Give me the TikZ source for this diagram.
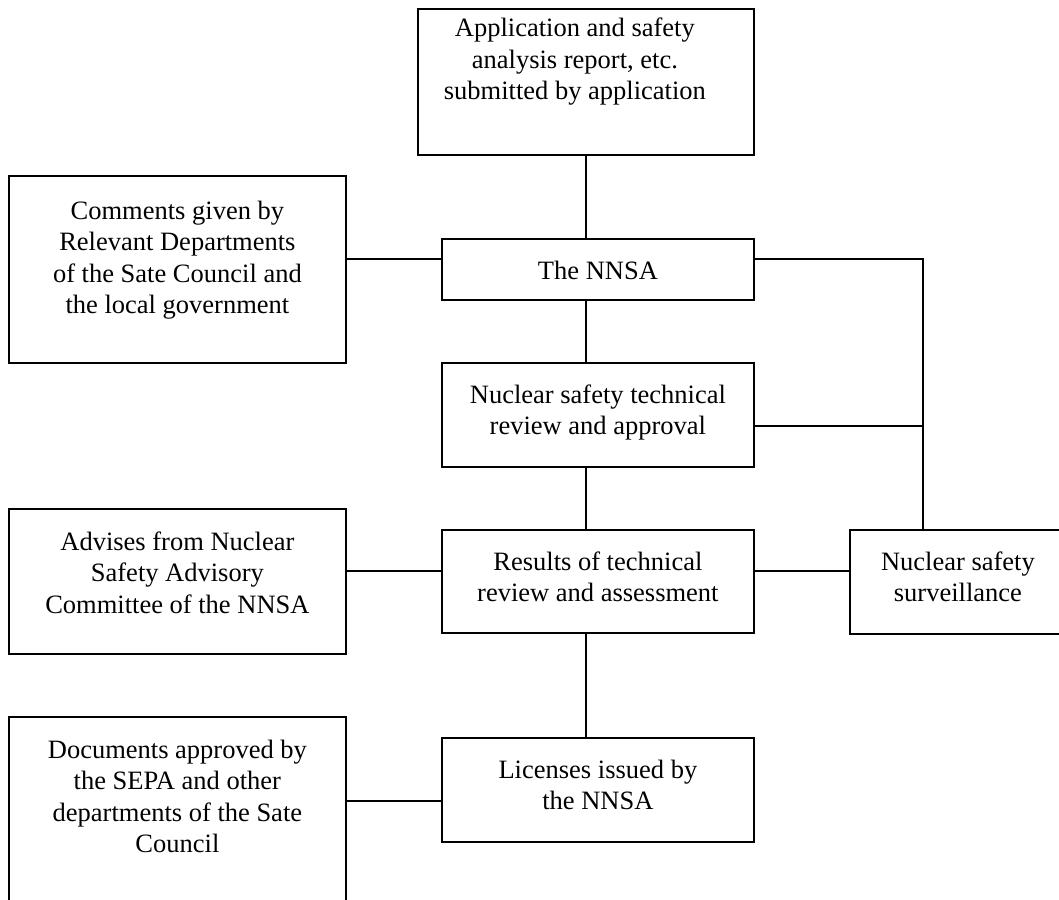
\documentclass[tikz,border=0pt]{standalone}
\usepackage{fontspec}
\setmainfont{Liberation Serif}
\newcommand\boxtext[1]{\parbox[t]{330pt}{\centering #1}}
\begin{document}
\begin{tikzpicture}[x=1pt,y=1pt,
  box/.style={draw, line width=1.8pt, anchor=north west, inner sep=0pt},
  txt/.style={anchor=base, inner sep=0pt, font=\fontsize{26.5}{31.5}\selectfont},
  conn/.style={line width=1.8pt}]
\useasboundingbox (0,0) rectangle (1059,-899);
\clip (0,0) rectangle (1059,-899);
% boxes
\node[box, minimum width=336pt, minimum height=146pt] (top) at (417,-8) {};
\node[box, minimum width=337pt, minimum height=187pt] (comments) at (8,-175) {};
\node[box, minimum width=312pt, minimum height=61pt] (nnsa) at (441,-238) {};
\node[box, minimum width=312pt, minimum height=104pt] (tech) at (441,-362) {};
\node[box, minimum width=337pt, minimum height=145pt] (advises) at (8,-508) {};
\node[box, minimum width=312pt, minimum height=103pt] (results) at (441,-529) {};
\node[box, minimum width=216pt, minimum height=104pt] (surv) at (849,-529) {};
\node[box, minimum width=337pt, minimum height=230pt] (docs) at (8,-716) {};
\node[box, minimum width=312pt, minimum height=104pt] (lic) at (441,-737) {};
% texts
\node[txt] (topT) at ([xshift=-11pt,yshift=-29pt]top.north) {\boxtext{Application and safety\\analysis report, etc.\\submitted by application}};
\node[txt] (commentsT) at ([yshift=-44pt]comments.north) {\boxtext{Comments given by\\Relevant Departments\\of the Sate Council and\\the local government}};
\node[txt] (nnsaT) at ([yshift=-41pt]nnsa.north) {\boxtext{The NNSA}};
\node[txt] (techT) at ([yshift=-41pt]tech.north) {\boxtext{Nuclear safety technical\\review and approval}};
\node[txt] (advisesT) at ([yshift=-42pt]advises.north) {\boxtext{Advises from Nuclear\\Safety Advisory\\Committee of the NNSA}};
\node[txt] (resultsT) at ([yshift=-41pt]results.north) {\boxtext{Results of technical\\review and assessment}};
\node[txt] (survT) at ([yshift=-41pt]surv.north) {\boxtext{Nuclear safety\\surveillance}};
\node[txt] (docsT) at ([yshift=-42pt]docs.north) {\boxtext{Documents approved by\\the SEPA and other\\departments of the Sate\\Council}};
\node[txt] (licT) at ([yshift=-41pt]lic.north) {\boxtext{Licenses issued by\\the NNSA}};
% connectors
\coordinate (bus) at ([xshift=168pt,yshift=10.5pt]nnsa.east);
\draw[conn] (top.south) -- (top.south |- nnsa.north);
\draw[conn] (top.south |- nnsa.south) -- (top.south |- tech.north);
\draw[conn] (top.south |- tech.south) -- (top.south |- results.north);
\draw[conn] (top.south |- results.south) -- (top.south |- lic.north);
\draw[conn] ([yshift=10.5pt]comments.east) -- ([yshift=10.5pt]comments.east -| nnsa.west);
\draw[conn] ([yshift=10.5pt]nnsa.east) -- (bus) -- (bus |- surv.north);
\draw[conn] ([yshift=-11pt]tech.east) -- ([yshift=-11pt]tech.east -| bus);
\draw[conn] ([yshift=10.5pt]advises.east) -- ([yshift=10.5pt]advises.east -| results.west);
\draw[conn] ([yshift=10.5pt]results.east) -- ([yshift=10.5pt]results.east -| surv.west);
\draw[conn] ([yshift=-11pt]lic.west -| docs.east) -- ([yshift=-11pt]lic.west);
\end{tikzpicture}
\end{document}
